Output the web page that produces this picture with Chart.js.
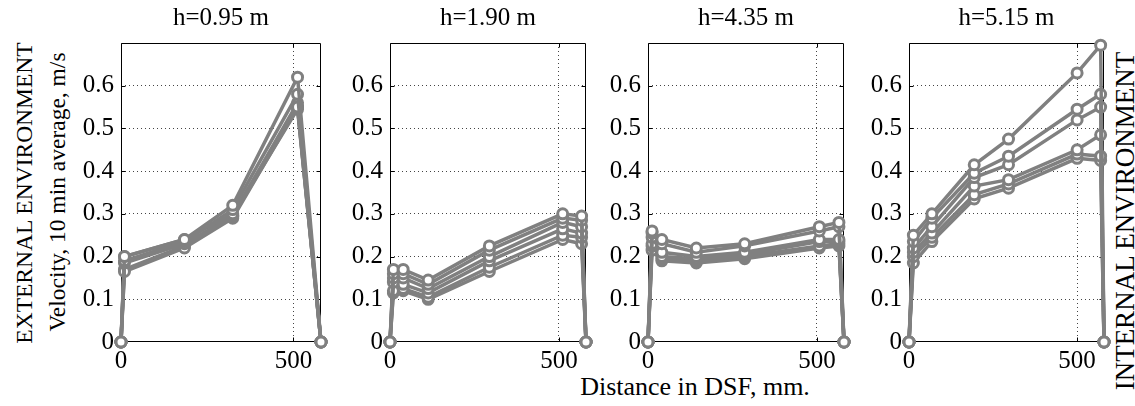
<!DOCTYPE html>
<html><head><meta charset="utf-8">
<script src="https://cdn.jsdelivr.net/npm/chart.js@4/dist/chart.umd.min.js"></script>
<style>
html,body{margin:0;padding:0;background:#fff;width:1135px;height:406px;overflow:hidden;position:relative;}
.cv{position:absolute;top:0;height:406px;}
.lbl{position:absolute;white-space:nowrap;color:#000;font-family:"Liberation Serif","Times New Roman",serif;line-height:1;}
</style></head><body>
<div class="lbl" id="xlab" style="font-size:26px;left:695px;top:374px;transform:translateX(-50%);">Distance in DSF, mm.</div>
<div class="lbl" style="font-size:23.5px;left:25px;top:193px;transform:translate(-50%,-50%) rotate(-90deg);">EXTERNAL ENVIRONMENT</div>
<div class="lbl" style="font-size:23.5px;left:57.5px;top:192px;transform:translate(-50%,-50%) rotate(-90deg);">Velocity, 10 min average, m/s</div>
<div class="lbl" style="font-size:27px;left:1125px;top:221px;transform:translate(-50%,-50%) rotate(-90deg);">INTERNAL ENVIRONMENT</div>
<script>
// ---- data ----
const titles = ['h=0.95 m', 'h=1.90 m', 'h=4.35 m', 'h=5.15 m'];
const xTickValues = [0, 500];
const yTickValues = [0, 0.1, 0.2, 0.3, 0.4, 0.5, 0.6];
const xMax = 580;
const yMax = 0.7;

const p1Distance = [0, 10, 184, 324, 512, 580];
const p1Velocity = [
  [0, 0.200, 0.240, 0.320, 0.620, 0],
  [0, 0.190, 0.235, 0.310, 0.580, 0],
  [0, 0.200, 0.240, 0.300, 0.550, 0],
  [0, 0.185, 0.230, 0.295, 0.545, 0],
  [0, 0.165, 0.220, 0.290, 0.550, 0],
  [0, 0.170, 0.225, 0.295, 0.560, 0]
];

const p2Distance = [0, 10, 39, 113, 294, 511, 567, 580];
const p2Velocity = [
  [0, 0.170, 0.170, 0.145, 0.225, 0.300, 0.295, 0],
  [0, 0.160, 0.160, 0.135, 0.215, 0.290, 0.285, 0],
  [0, 0.150, 0.150, 0.125, 0.200, 0.280, 0.270, 0],
  [0, 0.140, 0.135, 0.115, 0.190, 0.265, 0.255, 0],
  [0, 0.120, 0.125, 0.105, 0.175, 0.250, 0.245, 0],
  [0, 0.115, 0.120, 0.100, 0.165, 0.240, 0.230, 0]
];

const p3Distance = [0, 12, 41, 143, 286, 507, 565, 580];
const p3Velocity = [
  [0, 0.260, 0.240, 0.220, 0.230, 0.270, 0.280, 0],
  [0, 0.255, 0.230, 0.210, 0.225, 0.260, 0.270, 0],
  [0, 0.245, 0.210, 0.200, 0.210, 0.240, 0.240, 0],
  [0, 0.230, 0.200, 0.195, 0.205, 0.235, 0.235, 0],
  [0, 0.225, 0.195, 0.190, 0.200, 0.225, 0.230, 0],
  [0, 0.215, 0.190, 0.185, 0.195, 0.220, 0.225, 0]
];

const p4Distance = [0, 13, 68, 194, 296, 500, 570, 580];
const p4Velocity = [
  [0, 0.250, 0.300, 0.415, 0.475, 0.630, 0.695, 0],
  [0, 0.235, 0.290, 0.395, 0.435, 0.545, 0.580, 0],
  [0, 0.220, 0.270, 0.385, 0.415, 0.520, 0.550, 0],
  [0, 0.210, 0.255, 0.365, 0.380, 0.450, 0.485, 0],
  [0, 0.200, 0.245, 0.345, 0.370, 0.440, 0.435, 0],
  [0, 0.185, 0.235, 0.335, 0.360, 0.430, 0.425, 0]
];

// ---- layout ----
const panelLeft = [121, 390, 648, 909];
const panelWidth = [200, 196, 196, 195];
const M = 70;
const FONT = '"Liberation Serif","Times New Roman",serif';
const LINE = '#808080';

const boxPlugin = {
  id: 'box',
  beforeDatasetsDraw(chart) {
    const {ctx, chartArea: a, scales} = chart;
    const x = scales.x, y = scales.y;
    ctx.save();
    ctx.strokeStyle = '#000';
    ctx.lineWidth = 1;
    const L = Math.round(a.left) + 0.5, R = Math.round(a.right) - 0.5;
    const T = Math.round(a.top) + 0.5, B = Math.round(a.bottom) - 0.5;
    ctx.beginPath();
    ctx.rect(L, T, R - L, B - T);
    yTickValues.forEach(v => {
      const py = Math.round(y.getPixelForValue(v)) + 0.5;
      ctx.moveTo(L, py); ctx.lineTo(L + 4, py);
      ctx.moveTo(R, py); ctx.lineTo(R - 4, py);
    });
    xTickValues.forEach(v => {
      const px = Math.round(x.getPixelForValue(v)) + 0.5;
      ctx.moveTo(px, B); ctx.lineTo(px, B - 4);
      ctx.moveTo(px, T); ctx.lineTo(px, T + 4);
    });
    ctx.stroke();
    ctx.restore();
  }
};

function makePanel(i, xs, series) {
  const W = panelWidth[i];
  const wrap = document.createElement('div');
  wrap.className = 'cv';
  wrap.style.left = (panelLeft[i] - M) + 'px';
  wrap.style.width = (W + 2 * M) + 'px';
  const canvas = document.createElement('canvas');
  canvas.width = W + 2 * M;
  canvas.height = 406;
  wrap.appendChild(canvas);
  document.body.appendChild(wrap);

  const gridColor = c => (c.tick && c.tick.value === 0) ? 'rgba(0,0,0,0)' : '#444';

  new Chart(canvas, {
    type: 'line',
    data: {
      datasets: series.map(s => ({
        data: xs.map((xv, k) => ({x: xv, y: s[k]})),
        borderColor: LINE,
        borderWidth: 3.5,
        pointRadius: 5,
        pointBorderWidth: 3,
        pointBackgroundColor: '#fff',
        pointBorderColor: LINE,
        tension: 0,
        clip: false
      }))
    },
    options: {
      responsive: false,
      animation: false,
      events: [],
      layout: {padding: 0},
      plugins: {
        legend: {display: false},
        tooltip: {enabled: false},
        title: {
          display: true,
          text: titles[i],
          color: '#000',
          font: {family: FONT, size: 25, weight: 'normal', lineHeight: 1.2},
          padding: {top: 3, bottom: 10}
        }
      },
      scales: {
        x: {
          type: 'linear', min: 0, max: xMax,
          afterBuildTicks: s => { s.ticks = xTickValues.map(v => ({value: v})); },
          afterFit: s => { s.height = 64; },
          grid: {drawTicks: false, color: gridColor, lineWidth: 1},
          border: {display: false, dash: [1, 3]},
          ticks: {color: '#000', font: {family: FONT, size: 25}, padding: 4, maxRotation: 0, autoSkip: false,
                  callback: v => String(v)}
        },
        y: {
          type: 'linear', position: 'left', min: 0, max: yMax,
          afterBuildTicks: s => { s.ticks = yTickValues.map(v => ({value: v})); },
          afterFit: s => { s.width = M; },
          grid: {drawTicks: false, color: gridColor, lineWidth: 1},
          border: {display: false, dash: [1, 3]},
          ticks: {color: '#000', font: {family: FONT, size: 25}, padding: 7, autoSkip: false,
                  callback: v => (v === 0 ? '0' : v.toFixed(1))}
        },
        y2: {
          type: 'linear', position: 'right', min: 0, max: yMax,
          afterFit: s => { s.width = M; },
          grid: {display: false},
          border: {display: false},
          ticks: {display: false}
        }
      }
    },
    plugins: [boxPlugin]
  });
}

makePanel(0, p1Distance, p1Velocity);
makePanel(1, p2Distance, p2Velocity);
makePanel(2, p3Distance, p3Velocity);
makePanel(3, p4Distance, p4Velocity);
</script>
</body></html>
